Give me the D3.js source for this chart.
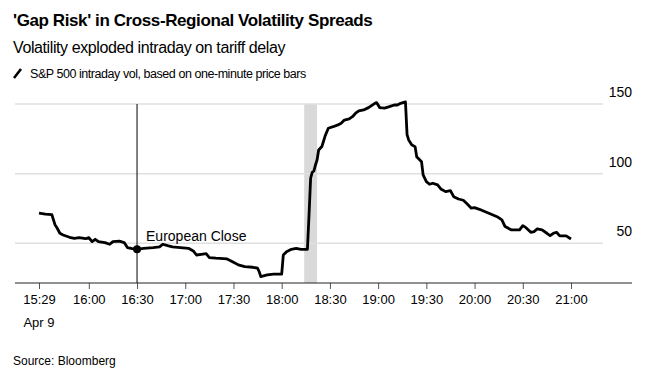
<!DOCTYPE html>
<html>
<head>
<meta charset="utf-8">
<script src="https://cdn.jsdelivr.net/npm/d3@7"></script>
<style>
  body { margin: 0; background: #fff; }
  text { font-family: "Liberation Sans", Arial, sans-serif; fill: #000; }
</style>
</head>
<body>
<div id="chart"></div>
<script>
// S&P 500 intraday vol (one-minute bars), Apr 9
var times = ["15:29","15:33","15:37","15:38","15:39","15:40","15:42","15:44","15:48","15:51","15:54","15:58",
  "16:00","16:02","16:04","16:06","16:10","16:13","16:15","16:19","16:22","16:24","16:27","16:30","16:34",
  "16:40","16:44","16:46","16:49","16:52","16:57","17:02","17:05","17:07","17:10","17:13","17:15","17:19",
  "17:26","17:30","17:33","17:37","17:42","17:45","17:46","17:47","17:51","17:55","18:00","18:01","18:03",
  "18:06","18:09","18:12","18:16","18:17","18:18","18:19","18:20","18:21","18:22","18:23","18:25","18:27",
  "18:29","18:32","18:35","18:37","18:39","18:42","18:44","18:46","18:48","18:51","18:54","18:58","18:59",
  "19:01","19:04","19:07","19:10","19:12","19:14","19:17","19:18","19:19","19:21","19:23","19:24","19:27",
  "19:28","19:30","19:32","19:34","19:37","19:39","19:42","19:45","19:47","19:50","19:53","19:55","19:58",
  "20:00","20:03","20:07","20:10","20:14","20:17","20:19","20:23","20:28","20:30","20:32","20:35","20:37",
  "20:39","20:42","20:45","20:47","20:49","20:51","20:53","20:57","21:00"];
var vol = [71.6,70.9,70.6,66.8,63.2,61.5,57.2,56.0,54.3,53.6,54.1,53.3,
  54.1,51.2,52.9,51.2,50.5,49.3,51.2,51.5,50.5,46.9,46.2,45.7,46.4,
  46.9,47.4,49.3,48.3,47.4,46.9,46.4,44.5,41.6,42.1,42.6,39.7,39.3,
  38.8,36.4,34.5,33.2,32.8,32.1,29.7,26.1,27.3,27.8,27.8,41.6,44.0,
  45.7,46.4,45.7,45.7,70.0,96.7,101.0,101.9,106.2,109.8,117.0,119.5,127.0,
  132.6,133.7,135.0,136.2,138.5,139.3,140.9,143.4,145.0,145.7,147.4,150.5,151.0,
  147.4,147.0,148.1,149.3,149.3,150.5,151.5,128.0,124.2,120.6,119.4,112.2,108.6,
  99.1,94.3,92.4,93.1,91.9,89.0,87.1,87.8,83.5,81.8,80.9,78.7,75.2,
  75.6,74.4,72.5,71.0,69.1,66.8,62.0,59.6,59.6,62.7,61.2,57.9,58.4,
  60.3,59.6,57.2,55.5,57.2,57.9,55.3,55.3,53.1];

var xTicks = ["15:29","16:00","16:30","17:00","17:30","18:00","18:30","19:00","19:30","20:00","20:30","21:00"];
var yTicks = [50, 100, 150];
var band = ["18:14", "18:22"];
var euroClose = "16:30";

var W = 648, H = 376;
var day = "2025-04-09T";
function t(s) { return new Date(day + s + ":00Z"); }

var svg = d3.select("#chart").append("svg")
    .attr("width", W)
    .attr("height", H);

// titles
svg.append("text").attr("x", 13).attr("y", 26)
    .style("font-size", "17px").style("font-weight", "bold")
    .style("letter-spacing", "-0.4px")
    .text("'Gap Risk' in Cross-Regional Volatility Spreads");
svg.append("text").attr("x", 13).attr("y", 53)
    .style("font-size", "16px")
    .style("letter-spacing", "-0.4px")
    .text("Volatility exploded intraday on tariff delay");
svg.append("line")
    .attr("x1", 14).attr("y1", 78).attr("x2", 21).attr("y2", 69)
    .attr("stroke", "#000").attr("stroke-width", 2.6);
svg.append("text").attr("x", 30).attr("y", 78)
    .style("font-size", "12.5px")
    .style("letter-spacing", "-0.45px")
    .text("S&P 500 intraday vol, based on one-minute price bars");

var x = d3.scaleUtc().domain([t("15:29"), t("21:00")]).range([39, 571]);
var y = d3.scaleLinear().domain([21.5, 150]).range([283, 104]);

var left = 15, gridRight = 603, axisRight = 632;

// highlight band
svg.append("rect")
    .attr("x", x(t(band[0])))
    .attr("y", y(150))
    .attr("width", x(t(band[1])) - x(t(band[0])))
    .attr("height", y(21.5) - y(150))
    .attr("fill", "#d9d9d9");

// gridlines + labels
svg.append("g").selectAll("line").data(yTicks).enter().append("line")
    .attr("x1", left).attr("x2", gridRight)
    .attr("y1", function (d) { return y(d); })
    .attr("y2", function (d) { return y(d); })
    .attr("stroke", "#e0e0e0").attr("stroke-width", 1.5);
svg.append("g").selectAll("text").data(yTicks).enter().append("text")
    .attr("x", axisRight)
    .attr("y", function (d) { return y(d) - 7; })
    .attr("text-anchor", "end")
    .style("font-size", "14px")
    .text(function (d) { return d; });

// european close marker
svg.append("line")
    .attr("x1", x(t(euroClose))).attr("x2", x(t(euroClose)))
    .attr("y1", y(150)).attr("y2", y(21.5))
    .attr("stroke", "#000").attr("stroke-width", 1);

// x axis
var xAxis = d3.axisBottom(x)
    .tickValues(xTicks.map(t))
    .tickSize(6)
    .tickFormat(function (d) { return d3.utcFormat("%H:%M")(d); });
var gx = svg.append("g").attr("transform", "translate(0," + y(21.5) + ")").call(xAxis);
gx.select(".domain").remove();
gx.selectAll(".tick line").attr("stroke", "#555");
gx.selectAll(".tick text")
    .attr("y", 12)
    .style("font-size", "13px")
    .style("font-family", "'Liberation Sans', Arial, sans-serif")
    .attr("fill", "#000");
gx.append("line").attr("x1", left).attr("x2", axisRight)
    .attr("y1", 0).attr("y2", 0)
    .attr("stroke", "#222").attr("stroke-width", 1);
svg.append("text")
    .attr("x", x(t(xTicks[0])))
    .attr("y", 327)
    .attr("text-anchor", "middle")
    .style("font-size", "13px")
    .text("Apr 9");

// line
var data = times.map(function (s, i) { return { t: t(s), v: vol[i] }; });
var line = d3.line()
    .x(function (d) { return x(d.t); })
    .y(function (d) { return y(d.v); });
svg.append("path").datum(data)
    .attr("d", line)
    .attr("fill", "none")
    .attr("stroke", "#000")
    .attr("stroke-width", 2.8)
    .attr("stroke-linejoin", "round");

var ec = data.filter(function (d) { return +d.t === +t(euroClose); })[0];
svg.append("circle")
    .attr("cx", x(ec.t)).attr("cy", y(ec.v)).attr("r", 4)
    .attr("fill", "#000");
svg.append("text")
    .attr("x", x(ec.t) + 9).attr("y", y(ec.v) - 8)
    .style("font-size", "14px")
    .text("European Close");

// source
svg.append("text").attr("x", 13).attr("y", 365)
    .style("font-size", "12px")
    .text("Source: Bloomberg");
</script>
</body>
</html>
